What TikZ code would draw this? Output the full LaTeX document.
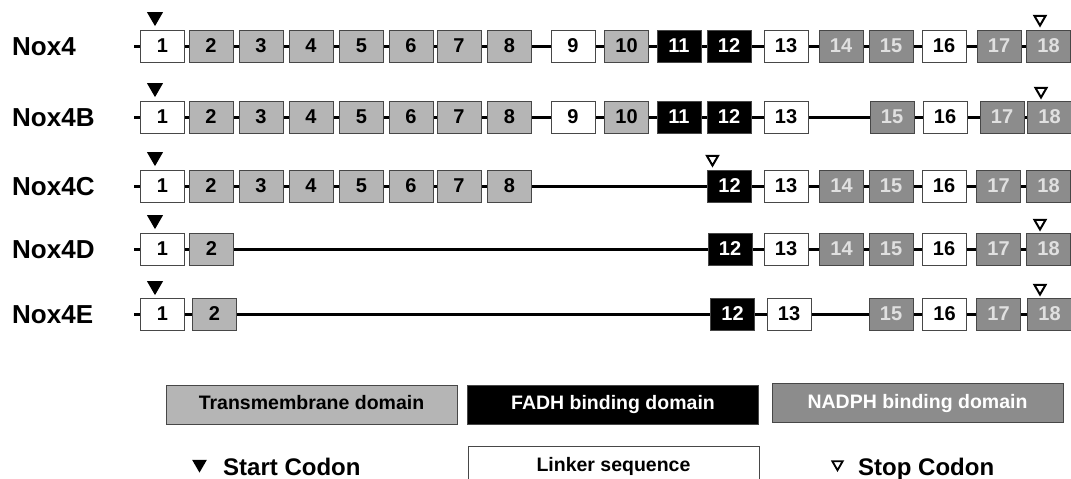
\documentclass[tikz,border=0pt]{standalone}
\usepackage{fontspec}
\setmainfont{Liberation Sans}
\usetikzlibrary{positioning,shapes.geometric}

\definecolor{tmgrey}{gray}{0.71}
\definecolor{nadgrey}{gray}{0.55}
\definecolor{boxline}{gray}{0.28}

\tikzset{
	exon/.style={draw=boxline, line width=1pt, minimum width=44pt, minimum height=32pt, inner sep=0pt, font=\fontsize{20}{20}\selectfont\bfseries},
	tm/.style={exon, fill=tmgrey},
	fadh/.style={exon, fill=black, text=white},
	nadph/.style={exon, fill=nadgrey, text=black!12},
	linker/.style={exon, fill=white},
	intron/.style={line width=3pt},
	isoform/.style={anchor=base west, inner sep=0pt, font=\fontsize{26}{26}\selectfont\bfseries},
	startcodon/.style={regular polygon, regular polygon sides=3, shape border rotate=180, fill=black, inner sep=0pt, minimum size=18.5pt, anchor=corner 1},
	stopcodon/.style={regular polygon, regular polygon sides=3, shape border rotate=180, draw=black, line width=2pt, fill=white, inner sep=0pt, minimum size=13pt, anchor=corner 1},
	legendbox/.style={draw=boxline, line width=1pt, minimum width=291pt, minimum height=39pt, inner sep=0pt, text height=14pt, text depth=4pt, font=\fontsize{19.5}{19.5}\selectfont\bfseries},
	legendtext/.style={anchor=base west, inner sep=0pt, font=\fontsize{24}{24}\selectfont\bfseries}
}

\begin{document}
\begin{tikzpicture}[x=1pt, y=-1pt]
		%%%%% START %%%%%
		\useasboundingbox (0,0) rectangle (1071,479);
		
		% Nox4
		\node[isoform] (nox4) at (12,55) {Nox4};
		\coordinate (nox4-in) at (134,46);
		\coordinate (nox4-out) at (1071,46);
		\draw[intron] (nox4-in) -- (nox4-out);
		\foreach \x/\n/\kind in {162.5/1/linker, 211/2/tm, 261/3/tm, 311/4/tm, 361.5/5/tm, 411/6/tm, 459/7/tm, 509.5/8/tm, 573/9/linker, 626.5/10/tm, 679/11/fadh, 729/12/fadh, 786/13/linker, 841/14/nadph, 891/15/nadph, 944/16/linker, 999/17/nadph, 1048.5/18/nadph}
			\node[\kind] (nox4-\n) at (\x,46) {\n};
		\node[startcodon] (nox4-start) at ([xshift=-7.5pt,yshift=3pt]nox4-1.north) {};
		\node[stopcodon] (nox4-stop) at ([xshift=-8.5pt,yshift=2pt]nox4-18.north) {};
		
		% Nox4B
		\node[isoform] (nox4b) at (12,126) {Nox4B};
		\coordinate (nox4b-in) at (134,117);
		\coordinate (nox4b-out) at (1071,117);
		\draw[intron] (nox4b-in) -- (nox4b-out);
		\foreach \x/\n/\kind in {162.5/1/linker, 211/2/tm, 261/3/tm, 311/4/tm, 361.5/5/tm, 411/6/tm, 459/7/tm, 509.5/8/tm, 573/9/linker, 626.5/10/tm, 679/11/fadh, 729/12/fadh, 786/13/linker, 892/15/nadph, 945/16/linker, 1002/17/nadph, 1049.5/18/nadph}
			\node[\kind] (nox4b-\n) at (\x,117) {\n};
		\node[startcodon] (nox4b-start) at ([xshift=-7.5pt,yshift=3pt]nox4b-1.north) {};
		\node[stopcodon] (nox4b-stop) at ([xshift=-8.5pt,yshift=1pt]nox4b-18.north) {};
		
		% Nox4C
		\node[isoform] (nox4c) at (12,195) {Nox4C};
		\coordinate (nox4c-in) at (134,186);
		\coordinate (nox4c-out) at (1071,186);
		\draw[intron] (nox4c-in) -- (nox4c-out);
		\foreach \x/\n/\kind in {162.5/1/linker, 211/2/tm, 261/3/tm, 311/4/tm, 361.5/5/tm, 411/6/tm, 459/7/tm, 509.5/8/tm, 729.5/12/fadh, 786/13/linker, 841.5/14/nadph, 891/15/nadph, 944/16/linker, 998.5/17/nadph, 1048.5/18/nadph}
			\node[\kind] (nox4c-\n) at (\x,186) {\n};
		\node[startcodon] (nox4c-start) at ([xshift=-7.5pt,yshift=3pt]nox4c-1.north) {};
		\node[stopcodon] (nox4c-stop) at ([xshift=-17pt,yshift=2pt]nox4c-12.north) {};
		
		% Nox4D
		\node[isoform] (nox4d) at (12,258) {Nox4D};
		\coordinate (nox4d-in) at (134,249);
		\coordinate (nox4d-out) at (1071,249);
		\draw[intron] (nox4d-in) -- (nox4d-out);
		\foreach \x/\n/\kind in {162.5/1/linker, 211.5/2/tm, 730/12/fadh, 786/13/linker, 841.5/14/nadph, 891/15/nadph, 944/16/linker, 998.5/17/nadph, 1048.5/18/nadph}
			\node[\kind] (nox4d-\n) at (\x,249) {\n};
		\node[startcodon] (nox4d-start) at ([xshift=-7.5pt,yshift=3pt]nox4d-1.north) {};
		\node[stopcodon] (nox4d-stop) at ([xshift=-8.5pt,yshift=1pt]nox4d-18.north) {};
		
		% Nox4E
		\node[isoform] (nox4e) at (12,323) {Nox4E};
		\coordinate (nox4e-in) at (134,314);
		\coordinate (nox4e-out) at (1071,314);
		\draw[intron] (nox4e-in) -- (nox4e-out);
		\foreach \x/\n/\kind in {162.5/1/linker, 214.5/2/tm, 732.5/12/fadh, 789/13/linker, 891/15/nadph, 944.5/16/linker, 998.5/17/nadph, 1049.5/18/nadph}
			\node[\kind] (nox4e-\n) at (\x,314) {\n};
		\node[startcodon] (nox4e-start) at ([xshift=-7.5pt,yshift=2pt]nox4e-1.north) {};
		\node[stopcodon] (nox4e-stop) at ([xshift=-9.5pt,yshift=1pt]nox4e-18.north) {};
		
		% key
		\node[legendbox, fill=tmgrey] (tm-key) at (311.5,404.5) {Transmembrane domain};
		\node[legendbox, fill=black, text=white] (fadh-key) at (613,404.5) {FADH binding domain};
		\node[legendbox, fill=nadgrey, text=white] (nadph-key) at (917.5,403) {NADPH binding domain};
		\node[legendbox, fill=white, anchor=north] (linker-key) at (613.5,446) {Linker sequence};
		
		\node[startcodon, minimum size=17pt] (start-key) at (199.5,473) {};
		\node[legendtext] (start-text) at (223,475) {Start Codon};
		\node[stopcodon, minimum size=12pt, line width=1.8pt] (stop-key) at (837.5,472) {};
		\node[legendtext] (stop-text) at (858,475) {Stop Codon};
		
		%%%%% END %%%%%
	\end{tikzpicture}
\end{document}
